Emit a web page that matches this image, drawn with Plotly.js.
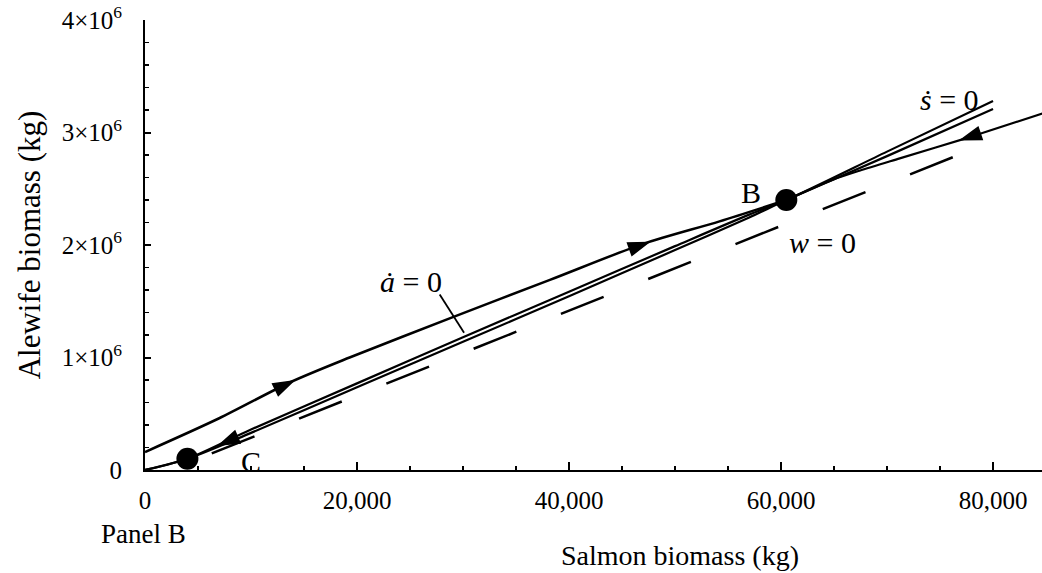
<!DOCTYPE html>
<html>
<head>
<meta charset="utf-8">
<script src="https://cdn.plot.ly/plotly-3.0.1.min.js"></script>
<style>
  html, body { margin: 0; padding: 0; background: #ffffff; }
  #chart { width: 1042px; height: 573px; }
</style>
</head>
<body>
<div id="chart"></div>
<script>
// ---- tick labels ----
const xTickVals = [0, 20000, 40000, 60000, 80000];
const xTickText = ['0', '20,000', '40,000', '60,000', '80,000'];
const yTickVals = [0, 1e6, 2e6, 3e6, 4e6];
const yTickText = ['0', '1×10<sup>6</sup>', '2×10<sup>6</sup>', '3×10<sup>6</sup>', '4×10<sup>6</sup>'];

// ---- nullcline ṡ = 0 (salmon, alewife) ----
const sNullX = [0, 4000, 10000, 20000, 30000, 40000, 50000, 57000, 60500, 70000, 80000];
const sNullY = [0, 0.10e6, 0.36e6, 0.77e6, 1.18e6, 1.585e6, 1.99e6, 2.27e6, 2.40e6, 2.83e6, 3.28e6];

// ---- nullcline ȧ = 0 ----
const aNullX = [0, 4000, 10000, 20000, 30000, 40000, 50000, 57000, 60500, 70000, 80000];
const aNullY = [0, 0.10e6, 0.33e6, 0.735e6, 1.14e6, 1.545e6, 1.955e6, 2.245e6, 2.40e6, 2.79e6, 3.21e6];

// ---- w = 0 (dashed) ----
const wNullX = [6300, 76200];
const wNullY = [0.147e6, 2.78e6];

// ---- trajectory from the alewife axis up to B ----
const upTrajX = [0, 7000, 13700, 19300, 28800, 38200, 47000, 54200, 60500];
const upTrajY = [0.16e6, 0.46e6, 0.78e6, 1.00e6, 1.35e6, 1.69e6, 2.01e6, 2.21e6, 2.40e6];

// ---- trajectory from the right down to B ----
const rightTrajX = [85000, 77500, 71200, 67400, 64900, 60500];
const rightTrajY = [3.18e6, 2.95e6, 2.77e6, 2.66e6, 2.58e6, 2.40e6];

// ---- equilibria C and B ----
const eqX = [4000, 60500];
const eqY = [0.10e6, 2.40e6];
const eqLabel = ['C', 'B'];

// ---- arrowheads (tail, head) ----
const arrowTailX = [12000, 45500, 79000, 9000];
const arrowTailY = [0.70e6, 1.955e6, 3.00e6, 0.304e6];
const arrowHeadX = [14000, 47500, 77000, 7000];
const arrowHeadY = [0.792e6, 2.023e6, 2.936e6, 0.222e6];

// ---- leader line for ȧ = 0 label ----
const leaderX = [27800, 30100];
const leaderY = [1.56e6, 1.22e6];

const serif = 'Liberation Serif, Times New Roman, DejaVu Serif, serif';

const traces = [];
function line(x, y, w, dash, shape) {
  traces.push({ x: x, y: y, type: 'scatter', mode: 'lines', hoverinfo: 'skip',
    line: { color: '#000', width: w, dash: dash || 'solid', shape: shape || 'linear', smoothing: 0.8 },
    showlegend: false });
}
line(sNullX, sNullY, 2.2, 'solid', 'spline');
line(aNullX, aNullY, 2.2, 'solid', 'spline');
line(wNullX, wNullY, 2.5, '46px,48px');
line(upTrajX, upTrajY, 2.5, 'solid', 'spline');
line(rightTrajX, rightTrajY, 2.2, 'solid', 'spline');
line(leaderX, leaderY, 1.8);

for (let i = 0; i < arrowHeadX.length; i++) {
  traces.push({
    x: [arrowTailX[i], arrowHeadX[i]], y: [arrowTailY[i], arrowHeadY[i]],
    type: 'scatter', mode: 'markers', hoverinfo: 'skip', showlegend: false, opacity: 1,
    marker: { symbol: 'arrow', angleref: 'previous', size: [0, 21], color: '#000', opacity: 1,
      line: { width: 1.5, color: '#000' } }
  });
}

traces.push({ x: eqX, y: eqY, type: 'scatter', mode: 'markers', hoverinfo: 'skip',
  showlegend: false, marker: { size: 22, color: '#000', opacity: 1 } });

const annFont = { family: serif, size: 30, color: '#000' };
const layout = {
  width: 1042, height: 573,
  margin: { l: 145, r: 0, t: 20, b: 103 },
  paper_bgcolor: '#fff', plot_bgcolor: '#fff',
  showlegend: false,
  xaxis: {
    range: [0, 84620], showgrid: false, zeroline: false,
    showline: true, linecolor: '#000', linewidth: 2,
    tickmode: 'array', tickvals: xTickVals, ticktext: xTickText,
    ticks: 'inside', ticklen: 8, tickwidth: 2, tickcolor: '#000',
    ticklabelstandoff: 7,
    tickfont: { family: serif, size: 25, color: '#000' },
    minor: { tickmode: 'linear', tick0: 0, dtick: 5000, ticks: 'inside', ticklen: 4, tickwidth: 1.5, tickcolor: '#000' }
  },
  yaxis: {
    range: [0, 4e6], showgrid: false, zeroline: false,
    showline: true, linecolor: '#000', linewidth: 2,
    tickmode: 'array', tickvals: yTickVals, ticktext: yTickText,
    ticks: 'inside', ticklen: 6, tickwidth: 2, tickcolor: '#000',
    ticklabelstandoff: 16,
    tickfont: { family: serif, size: 25, color: '#000' },
    minor: { tickmode: 'linear', tick0: 0, dtick: 2e5, ticks: 'inside', ticklen: 4, tickwidth: 1.5, tickcolor: '#000' },
    title: { text: 'Alewife biomass (kg)', font: { family: serif, size: 31, color: '#000' }, standoff: 12 }
  },
  annotations: [
    { x: eqX[0], y: eqY[0], xref: 'x', yref: 'y', text: eqLabel[0], showarrow: false,
      xshift: 64, yshift: -3, font: annFont },
    { x: eqX[1], y: eqY[1], xref: 'x', yref: 'y', text: eqLabel[1], showarrow: false,
      xshift: -35, yshift: 8, font: annFont },
    { x: 75900, y: 3.29e6, xref: 'x', yref: 'y', text: '<i>ṡ</i> = 0', showarrow: false, font: annFont },
    { x: 63900, y: 2.02e6, xref: 'x', yref: 'y', text: '<i>w</i> = 0', showarrow: false, font: annFont },
    { x: 25100, y: 1.68e6, xref: 'x', yref: 'y', text: '<i>ȧ</i> = 0', showarrow: false, font: annFont },
    { x: 0.596, y: -0.191, xref: 'paper', yref: 'paper', yanchor: 'middle', text: 'Salmon biomass (kg)', showarrow: false,
      font: { family: serif, size: 28, color: '#000' } },
    { x: -0.002, y: -0.143, xref: 'paper', yref: 'paper', yanchor: 'middle', text: 'Panel B', showarrow: false,
      xanchor: 'center', font: { family: serif, size: 27, color: '#000' } }
  ]
};

Plotly.newPlot('chart', traces, layout, { staticPlot: true, displayModeBar: false });
</script>
</body>
</html>
